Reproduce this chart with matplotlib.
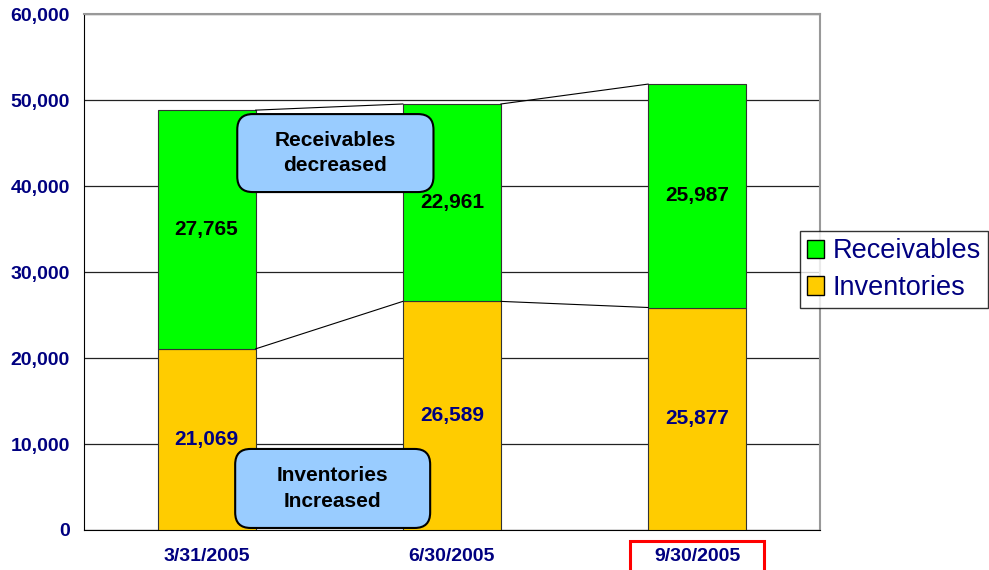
import matplotlib.pyplot as plt
from matplotlib.patches import FancyBboxPatch, Rectangle
from matplotlib.ticker import FuncFormatter

plt.rcParams['font.family'] = ['Liberation Sans', 'DejaVu Sans']

dates = ["3/31/2005", "6/30/2005", "9/30/2005"]
inventories = [21069, 26589, 25877]
receivables = [27765, 22961, 25987]

navy = "#000080"
green = "#00FF00"
gold = "#FFCC00"
callout = "#99CCFF"

fig = plt.figure(figsize=(9.89, 5.70), dpi=100)
ax = fig.add_axes([0.0849, 0.0702, 0.744, 0.905])

x = list(range(len(dates)))
w = 0.4
ax.bar(x, inventories, width=w, color=gold, edgecolor="#333333", linewidth=0.8,
       label="Inventories", zorder=3)
ax.bar(x, receivables, width=w, bottom=inventories, color=green, edgecolor="#333333",
       linewidth=0.8, label="Receivables", zorder=3)

# series lines joining the stacked segments
tops = [a + b for a, b in zip(inventories, receivables)]
for i in range(len(x) - 1):
    ax.plot([x[i] + w / 2, x[i + 1] - w / 2], [inventories[i], inventories[i + 1]],
            color="black", lw=0.8, zorder=4)
    ax.plot([x[i] + w / 2, x[i + 1] - w / 2], [tops[i], tops[i + 1]],
            color="black", lw=0.8, zorder=4)

for i in x:
    ax.text(i, inventories[i] / 2, f"{inventories[i]:,}", ha="center", va="center",
            fontsize=15, fontweight="bold", color=navy, zorder=5)
    ax.text(i, inventories[i] + receivables[i] / 2, f"{receivables[i]:,}", ha="center",
            va="center", fontsize=15, fontweight="bold", color="black", zorder=5)

ax.set_xlim(-0.5, 2.5)
ax.set_ylim(0, 60000)
ax.set_yticks(range(0, 60001, 10000))
ax.yaxis.set_major_formatter(FuncFormatter(lambda v, p: f"{int(v):,}"))
ax.set_xticks(x)
ax.set_xticklabels(dates)
ax.tick_params(axis="y", length=0, pad=10, labelsize=14, labelcolor=navy)
ax.tick_params(axis="x", length=0, pad=13, labelsize=14, labelcolor=navy)
for lbl in ax.get_xticklabels() + ax.get_yticklabels():
    lbl.set_fontweight("bold")

ax.grid(axis="y", color="#222222", lw=0.9, zorder=0)
ax.spines["left"].set_color("black")
ax.spines["bottom"].set_color("black")
ax.spines["top"].set_color("#999999")
ax.spines["right"].set_color("#999999")
ax.spines["top"].set_linewidth(1.5)
ax.spines["right"].set_linewidth(1.5)

# rounded callout boxes, placed in axes fractions so the corners stay round
aspect = (0.744 * 989) / (0.905 * 570)
def note(cx, cy, bw, bh, text):
    x0 = (cx - bw / 2 + 0.5) / 3
    y0 = (cy - bh / 2) / 60000
    box = FancyBboxPatch((x0, y0), bw / 3, bh / 60000,
                         boxstyle="round,pad=0,rounding_size=0.021",
                         mutation_aspect=aspect, transform=ax.transAxes,
                         fc=callout, ec="black", lw=1.5, zorder=6)
    ax.add_patch(box)
    ax.text(cx, cy, text, ha="center", va="center", fontsize=15,
            fontweight="bold", color="black", linespacing=1.45, zorder=7)

note(0.525, 43840, 0.80, 9070, "Receivables\ndecreased")
note(0.514, 4830, 0.795, 9190, "Inventories\nIncreased")

handles, labels = ax.get_legend_handles_labels()
leg = fig.legend(handles[::-1], labels[::-1], loc="upper left",
                 bbox_to_anchor=(0.809, 0.594), fontsize=19.5, frameon=True,
                 fancybox=False, edgecolor="black", handlelength=0.65,
                 handleheight=0.65, handletextpad=0.3, borderpad=0.25,
                 labelspacing=0.4, borderaxespad=0)
leg.get_frame().set_linewidth(1.0)
for t in leg.get_texts():
    t.set_color(navy)
for h in leg.legend_handles:
    h.set_edgecolor("black")
    h.set_linewidth(1.0)

# red frame around the latest date label
fig.canvas.draw()
bb = ax.get_xticklabels()[2].get_window_extent()
fig.patches.append(Rectangle((bb.x0 - 24, bb.y0 - 20), bb.width + 48, bb.height + 27,
                             transform=None, fill=False, ec="red", lw=2.2,
                             figure=fig))

fig.savefig("out.png", dpi=100)
